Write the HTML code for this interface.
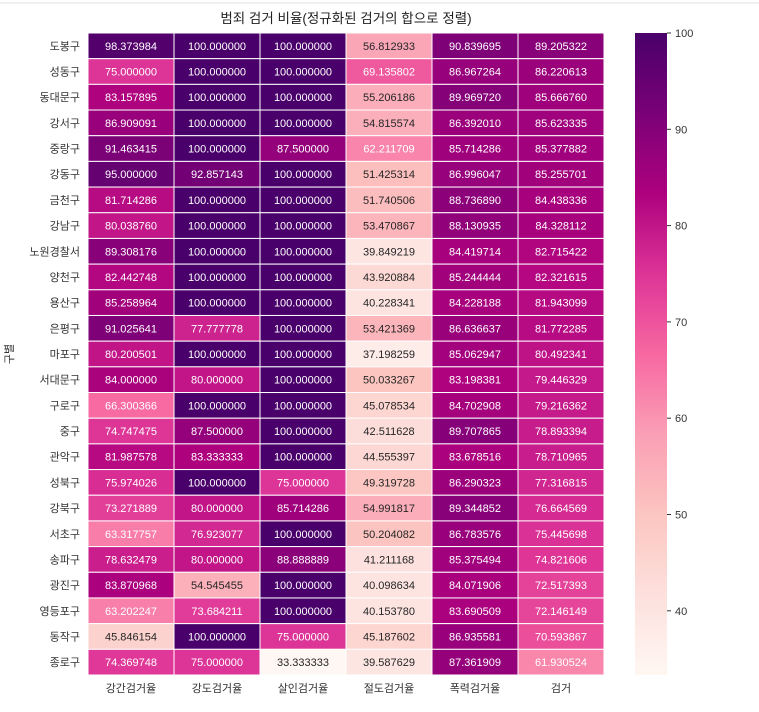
<!DOCTYPE html>
<html><head><meta charset="utf-8">
<style>
body{margin:0;background:#fff;width:759px;height:707px;overflow:hidden;font-family:"Liberation Sans","Noto Sans CJK KR",sans-serif;}
svg text{font-family:"Liberation Sans","Noto Sans CJK KR",sans-serif;}
</style></head>
<body>
<svg id="chart" width="759" height="707">
<line x1="0" y1="3" x2="759" y2="3" stroke="#e0e0e0" stroke-width="1"/>
<text x="346" y="23" text-anchor="middle" font-size="13.5" fill="#222">범죄 검거 비율(정규화된 검거의 합으로 정렬)</text>
<text transform="translate(13,354) rotate(-90)" text-anchor="middle" font-size="11" fill="#333">구별</text>
<g id="cells"></g>
<g id="ylabels"></g>
<g id="xlabels"></g>
<defs><linearGradient id="cbgrad" x1="0" y1="1" x2="0" y2="0"></linearGradient></defs>
<rect x="635" y="33" width="32" height="642" fill="url(#cbgrad)"/>
<g id="cbticks"></g>
</svg>
<script>
const districts=["도봉구","성동구","동대문구","강서구","중랑구","강동구","금천구","강남구","노원경찰서","양천구","용산구","은평구","마포구","서대문구","구로구","중구","관악구","성북구","강북구","서초구","송파구","광진구","영등포구","동작구","종로구"];
const columns=["강간검거율","강도검거율","살인검거율","절도검거율","폭력검거율","검거"];
const rape=[98.373984,75.0,83.157895,86.909091,91.463415,95.0,81.714286,80.03876,89.308176,82.442748,85.258964,91.025641,80.200501,84.0,66.300366,74.747475,81.987578,75.974026,73.271889,63.317757,78.632479,83.870968,63.202247,45.846154,74.369748];
const robbery=[100,100,100,100,100,92.857143,100,100,100,100,100,77.777778,100,80.0,100,87.5,83.333333,100,80.0,76.923077,80.0,54.545455,73.684211,100,75.0];
const murder=[100,100,100,100,87.5,100,100,100,100,100,100,100,100,100,100,100,100,75.0,85.714286,100,88.888889,100,100,75.0,33.333333];
const theft=[56.812933,69.135802,55.206186,54.815574,62.211709,51.425314,51.740506,53.470867,39.849219,43.920884,40.228341,53.421369,37.198259,50.033267,45.078534,42.511628,44.555397,49.319728,54.991817,50.204082,41.211168,40.098634,40.15378,45.187602,39.587629];
const violence=[90.839695,86.967264,89.96972,86.39201,85.714286,86.996047,88.73689,88.130935,84.419714,85.244444,84.228188,86.636637,85.062947,83.198381,84.702908,89.707865,83.678516,86.290323,89.344852,86.783576,85.375494,84.071906,83.690509,86.935581,87.361909];
const total=[89.205322,86.220613,85.66676,85.623335,85.377882,85.255701,84.438336,84.328112,82.715422,82.321615,81.943099,81.772285,80.492341,79.446329,79.216362,78.893394,78.710965,77.316815,76.664569,75.445698,74.821606,72.517393,72.146149,70.593867,61.930524];
const cbTicks=[40,50,60,70,80,90,100];
const series=[rape,robbery,murder,theft,violence,total];

const X0=88,X1=604,Y0=33,Y1=675,CB0=635,CB1=667;
const vmin=Math.min(...series.flat()),vmax=Math.max(...series.flat());
const cw=(X1-X0)/columns.length,rh=(Y1-Y0)/districts.length;
const xPos=i=>X0+i*cw, yPos=j=>Y0+j*rh;
const cbY=v=>Y1-(v-vmin)/(vmax-vmin)*(Y1-Y0);
const stops=["#fff7f3","#fde0dd","#fcc5c0","#fa9fb5","#f768a1","#dd3497","#ae017e","#7a0177","#49006a"].map(h=>[parseInt(h.slice(1,3),16),parseInt(h.slice(3,5),16),parseInt(h.slice(5,7),16)]);
function cmap(v){let t=(v-vmin)/(vmax-vmin);t=Math.max(0,Math.min(1,t))*(stops.length-1);const i=Math.min(Math.floor(t),stops.length-2),f=t-i;return stops[i].map((c,k)=>Math.round(c+(stops[i+1][k]-c)*f));}
function lum(c){const r=c.map(x=>{x/=255;return x<=0.03928?x/12.92:Math.pow((x+0.055)/1.055,2.4)});return 0.2126*r[0]+0.7152*r[1]+0.0722*r[2];}
const NS="http://www.w3.org/2000/svg";
const cells=document.getElementById('cells');
series.forEach((arr,i)=>{arr.forEach((v,j)=>{
 const c=cmap(v);
 const r=document.createElementNS(NS,'rect');
 r.setAttribute('x',xPos(i));r.setAttribute('y',yPos(j));r.setAttribute('width',cw);r.setAttribute('height',rh);
 r.setAttribute('fill',`rgb(${c})`);r.setAttribute('stroke','#fff');r.setAttribute('stroke-width','1');
 
 
 cells.appendChild(r);
 const t=document.createElementNS(NS,'text');
 t.setAttribute('x',xPos(i)+cw/2);t.setAttribute('y',yPos(j)+rh/2+4);t.setAttribute('text-anchor','middle');t.setAttribute('font-size','11');
 t.setAttribute('fill',lum(c)>0.408?'#262626':'#ffffff');
 t.textContent=v.toFixed(6);
 
 
 cells.appendChild(t);
});});
const yl=document.getElementById('ylabels');
districts.forEach((d,j)=>{const t=document.createElementNS(NS,'text');
 t.setAttribute('x',X0-8);t.setAttribute('y',yPos(j)+rh/2+4);t.setAttribute('text-anchor','end');t.setAttribute('font-size','11');t.setAttribute('fill','#333');
 t.textContent=d;
 
 
 yl.appendChild(t);});
const xl=document.getElementById('xlabels');
columns.forEach((c,i)=>{const t=document.createElementNS(NS,'text');
 t.setAttribute('x',xPos(i)+cw/2);t.setAttribute('y',Y1+17);t.setAttribute('text-anchor','middle');t.setAttribute('font-size','11');t.setAttribute('fill','#333');
 t.textContent=c;
 
 
 xl.appendChild(t);});
const g=document.getElementById('cbgrad');
stops.forEach((s,k)=>{const st=document.createElementNS(NS,'stop');st.setAttribute('offset',k/(stops.length-1));st.setAttribute('stop-color',`rgb(${s})`);g.appendChild(st);});
const cbt=document.getElementById('cbticks');
cbTicks.forEach(v=>{const y=cbY(v);
 const l=document.createElementNS(NS,'line');l.setAttribute('x1',CB1);l.setAttribute('x2',CB1+4);l.setAttribute('y1',y);l.setAttribute('y2',y);l.setAttribute('stroke','#333');
 
 
 cbt.appendChild(l);
 const t=document.createElementNS(NS,'text');t.setAttribute('x',CB1+8);t.setAttribute('y',y+4);t.setAttribute('font-size','11');t.setAttribute('fill','#333');t.textContent=v;
 
 
 cbt.appendChild(t);});
</script>
</body></html>
